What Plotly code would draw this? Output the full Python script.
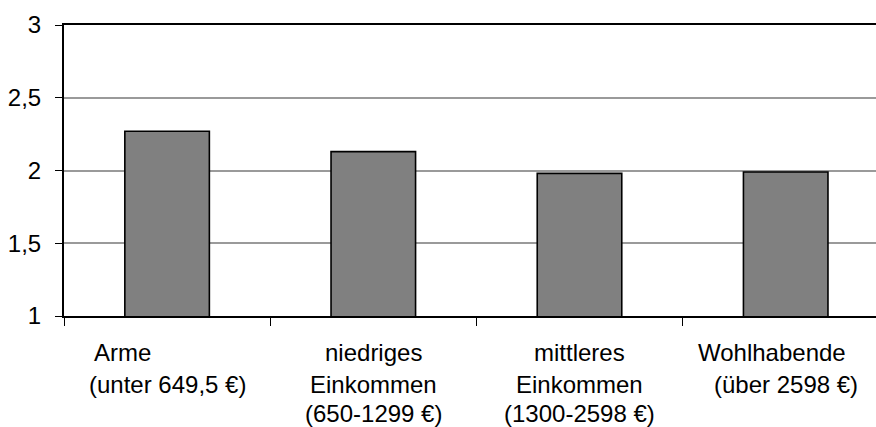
import plotly.graph_objects as go

# Einkommensgruppen und Mittelwerte
categories = ["Arme", "niedriges Einkommen", "mittleres Einkommen", "Wohlhabende"]
values = [2.27, 2.13, 1.98, 1.99]
label_lines = [
    ["Arme", "(unter 649,5 €)"],
    ["niedriges", "Einkommen", "(650-1299 €)"],
    ["mittleres", "Einkommen", "(1300-2598 €)"],
    ["Wohlhabende", "(über 2598 €)"],
]
y_ticks = [1, 1.5, 2, 2.5, 3]

FONT = "Liberation Sans, Arial, sans-serif"
W, H = 876, 427
M_L, M_T, M_B, M_R = 64, 25, 111, 0
CAT_W = 206.2  # Pixelbreite einer Kategorie

fig = go.Figure(
    go.Bar(
        x=categories,
        y=values,
        width=0.41,
        marker=dict(color="#808080", line=dict(color="#000000", width=1.6)),
        hoverinfo="x+y",
    )
)

plot_w = W - M_L - M_R
plot_h = H - M_T - M_B

# Achsenbeschriftung unter den Kategorien, zeilenweise
first_line_shift = {0: -45, 3: -14}
line_centers_px = [352.0, 384.0, 413.5]
annotations = []
for i, lines in enumerate(label_lines):
    for j, txt in enumerate(lines):
        y_px = line_centers_px[j]
        annotations.append(
            dict(
                x=categories[i],
                xref="x",
                y=(H - M_B - y_px) / plot_h,
                yref="paper",
                text=txt,
                showarrow=False,
                xanchor="center",
                yanchor="middle",
                xshift=first_line_shift.get(i, 0) if j == 0 else 0,
                font=dict(family=FONT, size=24, color="#000000"),
            )
        )

fig.update_layout(
    width=W,
    height=H,
    margin=dict(l=M_L, r=M_R, t=M_T, b=M_B, pad=0),
    paper_bgcolor="white",
    plot_bgcolor="white",
    separators=",.",
    showlegend=False,
    font=dict(family=FONT, size=24, color="#000000"),
    annotations=annotations,
    xaxis=dict(
        type="category",
        range=[-0.5, -0.5 + plot_w / CAT_W],
        showticklabels=False,
        ticks="outside",
        tickson="boundaries",
        ticklen=8,
        tickwidth=1,
        tickcolor="#000000",
        showline=True,
        linecolor="#000000",
        linewidth=2,
        mirror=True,
        showgrid=False,
        zeroline=False,
        fixedrange=True,
    ),
    yaxis=dict(
        range=[1, 3],
        tickvals=y_ticks,
        ticks="outside",
        ticklen=7,
        tickwidth=1,
        tickcolor="#000000",
        ticklabelstandoff=9,
        showline=True,
        linecolor="#000000",
        linewidth=2,
        showgrid=True,
        gridcolor="#9a9a9a",
        gridwidth=1.5,
        zeroline=False,
        tickfont=dict(family=FONT, size=24, color="#000000"),
        fixedrange=True,
    ),
)

fig.write_html("out.html")
